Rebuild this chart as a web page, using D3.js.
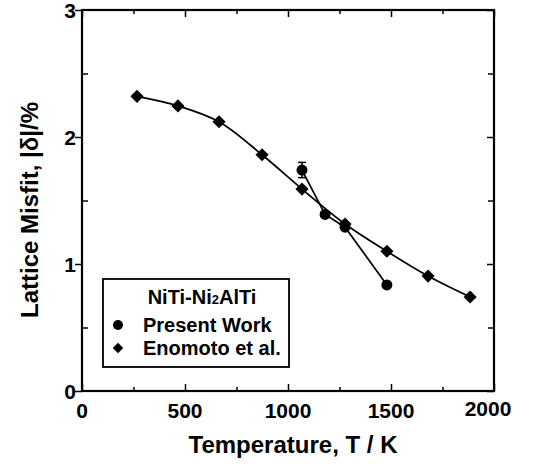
<!DOCTYPE html>
<html>
<head>
<meta charset="utf-8">
<script src="https://cdn.jsdelivr.net/npm/d3@7"></script>
<style>
  body { margin: 0; background: #fff; }
  text { font-family: "Liberation Sans", Arial, sans-serif; font-weight: bold; }
</style>
</head>
<body>
<svg width="550" height="468"></svg>
<script>
// data
var enomotoT = [267, 466, 665, 874, 1068, 1277, 1480, 1680, 1884];
var enomotoMisfit = [2.32, 2.245, 2.12, 1.86, 1.59, 1.315, 1.10, 0.905, 0.74];
var presentT = [1068, 1180, 1277, 1480];
var presentMisfit = [1.74, 1.39, 1.29, 0.835];
var presentErr = [0.06, 0, 0, 0];
var xTicks = [0, 500, 1000, 1500, 2000];
var yTicks = [0, 1, 2, 3];

var svg = d3.select("svg");
var plotL = 82, plotR = 494, plotT = 10, plotB = 391;

var x = d3.scaleLinear().domain([0, 2000]).range([plotL, plotR]);
var y = d3.scaleLinear().domain([0, 3]).range([plotB, plotT]);

// frame
svg.append("rect")
    .attr("x", plotL).attr("y", plotT)
    .attr("width", plotR - plotL).attr("height", plotB - plotT)
    .attr("fill", "none").attr("stroke", "#000").attr("stroke-width", 2.2);

// axes (ticks only, frame drawn above)
svg.append("g")
    .attr("transform", "translate(0," + plotB + ")")
    .call(d3.axisBottom(x).tickValues(d3.range(0, 2001, 250)).tickFormat(""))
    .call(function(g) {
        g.select(".domain").remove();
        g.selectAll(".tick line").attr("stroke-width", 1.5)
            .attr("y2", function(d) { return d % 500 ? -4 : -7; });
    });
svg.append("g")
    .attr("transform", "translate(0," + plotT + ")")
    .call(d3.axisTop(x).tickValues(d3.range(0, 2001, 250)).tickFormat(""))
    .call(function(g) {
        g.select(".domain").remove();
        g.selectAll(".tick line").attr("stroke-width", 1.5)
            .attr("y2", function(d) { return d % 500 ? 4 : 7; });
    });
svg.append("g")
    .attr("transform", "translate(" + plotL + ",0)")
    .call(d3.axisLeft(y).tickValues(d3.range(0, 3.01, 0.5)).tickFormat(""))
    .call(function(g) {
        g.select(".domain").remove();
        g.selectAll(".tick line").attr("stroke-width", 1.5)
            .attr("x2", function(d) { return d % 1 ? 6 : -7; });
    });
svg.append("g")
    .attr("transform", "translate(" + plotR + ",0)")
    .call(d3.axisRight(y).tickValues(d3.range(0, 3.01, 0.5)).tickFormat(""))
    .call(function(g) {
        g.select(".domain").remove();
        g.selectAll(".tick line").attr("stroke-width", 1.5)
            .attr("x2", function(d) { return d % 1 ? -6 : -7; });
    });

// tick labels
svg.selectAll(".xlab").data(xTicks).enter().append("text")
    .attr("x", function(d) { return d === 2000 ? x(d) - 6 : x(d); })
    .attr("y", function(d) { return d === 2000 ? 416 : 418; })
    .attr("text-anchor", "middle")
    .style("font-size", "21px")
    .text(function(d) { return d; });
svg.selectAll(".ylab").data(yTicks).enter().append("text")
    .attr("x", 76)
    .attr("y", function(d) { return y(d) + 8; })
    .attr("text-anchor", "end")
    .style("font-size", "21px")
    .text(function(d) { return d; });

// axis titles
svg.append("text")
    .attr("x", 293).attr("y", 453)
    .attr("text-anchor", "middle")
    .style("font-size", "24px")
    .text("Temperature, T / K");
svg.append("text")
    .attr("transform", "translate(38,210) rotate(-90)")
    .attr("text-anchor", "middle")
    .style("font-size", "24px")
    .text("Lattice Misfit, |δ|/%");

// series
var enomoto = enomotoT.map(function(t, i) { return [t, enomotoMisfit[i]]; });
var present = presentT.map(function(t, i) { return [t, presentMisfit[i], presentErr[i]]; });

svg.append("path")
    .datum(enomoto)
    .attr("fill", "none").attr("stroke", "#000").attr("stroke-width", 1.7)
    .attr("d", d3.line().curve(d3.curveCatmullRom)
        .x(function(d) { return x(d[0]); })
        .y(function(d) { return y(d[1]); }));

svg.append("path")
    .datum(present)
    .attr("fill", "none").attr("stroke", "#000").attr("stroke-width", 1.7)
    .attr("d", d3.line()
        .x(function(d) { return x(d[0]); })
        .y(function(d) { return y(d[1]); }));

// error bars
present.filter(function(d) { return d[2] > 0; }).forEach(function(d) {
    var g = svg.append("g").attr("stroke", "#000").attr("stroke-width", 1.5);
    g.append("line").attr("x1", x(d[0])).attr("x2", x(d[0]))
        .attr("y1", y(d[1] + d[2])).attr("y2", y(d[1] - d[2]));
    [d[1] + d[2], d[1] - d[2]].forEach(function(v) {
        g.append("line").attr("x1", x(d[0]) - 4).attr("x2", x(d[0]) + 4)
            .attr("y1", y(v)).attr("y2", y(v));
    });
});

var diamond = d3.symbol().type(d3.symbolDiamond2).size(110);
svg.selectAll(".dia").data(enomoto).enter().append("path")
    .attr("transform", function(d) { return "translate(" + x(d[0]) + "," + y(d[1]) + ")"; })
    .attr("d", diamond)
    .attr("fill", "#000");

svg.selectAll(".dot").data(present).enter().append("circle")
    .attr("cx", function(d) { return x(d[0]); })
    .attr("cy", function(d) { return y(d[1]); })
    .attr("r", 5.5)
    .attr("fill", "#000");

// legend
var lg = svg.append("g");
lg.append("rect")
    .attr("x", 103).attr("y", 279).attr("width", 186).attr("height", 88)
    .attr("fill", "#fff").attr("stroke", "#000").attr("stroke-width", 1.8);
var title = lg.append("text").attr("x", 202).attr("y", 304).attr("text-anchor", "middle")
    .style("font-size", "20px");
title.append("tspan").text("NiTi-Ni");
title.append("tspan").style("font-size", "13px").text("2");
title.append("tspan").text("AlTi");
lg.append("circle").attr("cx", 118).attr("cy", 325).attr("r", 5).attr("fill", "#000");
lg.append("path").attr("transform", "translate(118,348)")
    .attr("d", d3.symbol().type(d3.symbolDiamond2).size(70)).attr("fill", "#000");
lg.append("text").attr("x", 143).attr("y", 332).style("font-size", "20px").text("Present Work");
lg.append("text").attr("x", 143).attr("y", 355).style("font-size", "20px").text("Enomoto et al.");
</script>
</body>
</html>
